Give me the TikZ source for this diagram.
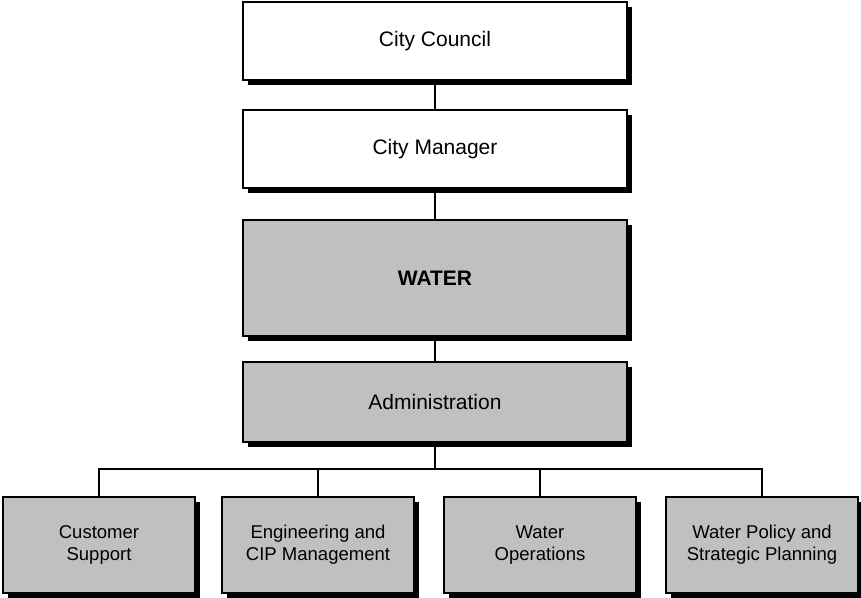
\documentclass[tikz,border=0pt]{standalone}
\usepackage{fontspec}
\setmainfont{Liberation Sans}
\usepackage{tikz}
\usetikzlibrary{shadows,positioning}
\definecolor{boxgray}{HTML}{C0C0C0}
\tikzset{x=0.75pt,y=-0.75pt,
  unit/.style={draw=black,line width=1pt,inner sep=2pt,align=center,
    drop shadow={shadow xshift=3.75pt,shadow yshift=-3.75pt,opacity=1,fill=black}},
  topunit/.style={unit,minimum width=288pt,font=\fontsize{15.75}{19}\selectfont},
  subunit/.style={unit,fill=boxgray,minimum width=144pt,minimum height=72pt,
    font=\fontsize{13.9}{16.3}\selectfont},
  link/.style={line width=1pt}}

\begin{document}
\begin{tikzpicture}
    \useasboundingbox (0,0) rectangle (861,598);
    \node[topunit,fill=white,minimum height=58.5pt] (council) at (435,41) {City Council};
    \node[topunit,fill=white,minimum height=58.5pt] (manager) at (435,149) {City Manager};
    \node[topunit,fill=boxgray,minimum height=87pt,font=\fontsize{15.75}{19}\selectfont\bfseries] (water) at (435,278) {WATER};
    \node[topunit,fill=boxgray,minimum height=60pt] (admin) at (435,402) {Administration};
    \coordinate (bus) at (435,469);
    \node[subunit] (customer) at (99,545) {Customer\\Support};
    \node[subunit] (engineering) at (318,545) {Engineering and\\CIP Management};
    \node[subunit] (operations) at (540,545) {Water\\Operations};
    \node[subunit] (policy) at (762,545) {Water Policy and\\Strategic Planning};
    \draw[link] (council) -- (manager);
    \draw[link] (manager) -- (water);
    \draw[link] (water) -- (admin);
    \draw[link] (admin) -- (bus);
    \draw[link] (bus) -| (customer);
    \draw[link] (bus) -| (engineering);
    \draw[link] (bus) -| (operations);
    \draw[link] (bus) -| (policy);
\end{tikzpicture}
\end{document}
